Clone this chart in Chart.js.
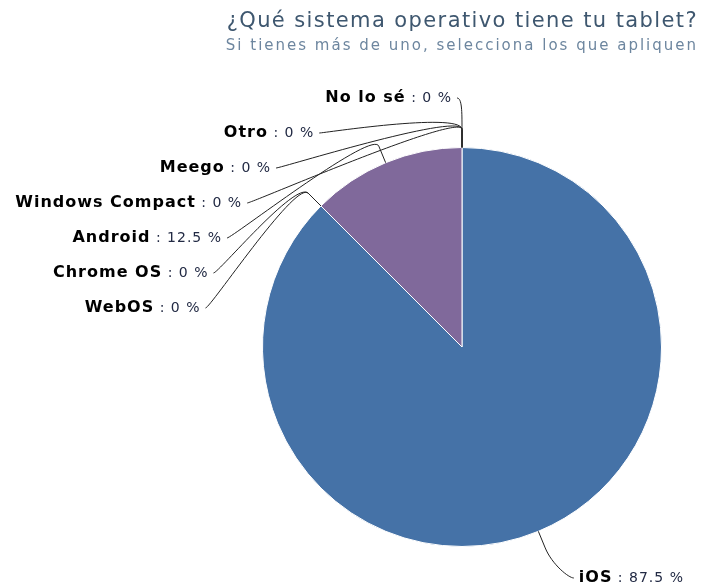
<!DOCTYPE html>
<html>
<head>
<meta charset="utf-8">
<script src="https://cdn.jsdelivr.net/npm/chart.js@4/dist/chart.umd.min.js"></script>
<style>
  html, body { margin: 0; padding: 0; background: #fff; }
  canvas { display: block; }
</style>
</head>
<body>
<canvas id="chart" width="703" height="588"></canvas>
<script>
const title = '¿Qué sistema operativo tiene tu tablet?';
const subtitle = 'Si tienes más de uno, selecciona los que apliquen';
const categories = ['iOS', 'WebOS', 'Chrome OS', 'Android', 'Windows Compact', 'Meego', 'Otro', 'No lo sé'];
const values = [87.5, 0, 0, 12.5, 0, 0, 0, 0];
const colors = ['#4572A7', '#AA4643', '#89A54E', '#80699B', '#3D96AE', '#DB843D', '#92A8CD', '#A47D7C'];

// highcharts-ish label placement
const LABEL_DIST = 55;
const BREAK_DIST = 18;
const SLOT = 35;
const LABEL_TOP = 98;
const LABEL_BOTTOM = 578;

const labelsPlugin = {
  id: 'pieLabels',
  afterDraw(chart) {
    const ctx = chart.ctx;
    const arcs = chart.getDatasetMeta(0).data;
    const cx = arcs[0].x, cy = arcs[0].y, r = arcs[0].outerRadius;
    const R = r + LABEL_DIST;

    // title + subtitle
    ctx.save();
    ctx.textAlign = 'right';
    ctx.textBaseline = 'middle';
    ctx.fillStyle = '#3E576F';
    ctx.font = '21px "DejaVu Sans"';
    ctx.letterSpacing = '1.4px';
    ctx.fillText(title, 698, 22);
    ctx.fillStyle = '#6D869F';
    ctx.font = '15px "DejaVu Sans"';
    ctx.letterSpacing = '2px';
    ctx.fillText(subtitle, 698, 46);
    ctx.restore();

    const items = arcs.map((a, i) => {
      const mid = (a.startAngle + a.endAngle) / 2;
      return { i, mid, left: Math.cos(mid) < -1e-6 || (Math.abs(Math.cos(mid)) < 1e-6 && Math.sin(mid) < 0),
               naturalY: cy + R * Math.sin(mid) };
    });

    const getX = (y, left) => {
      const dy = Math.max(-R, Math.min(R, y - cy));
      return cx + (left ? -1 : 1) * Math.sqrt(R * R - dy * dy);
    };

    [true, false].forEach(side => {
      const list = items.filter(it => it.left === side)
        .sort((a, b) => (a.naturalY - b.naturalY) || (b.i - a.i));
      let prev = -Infinity;
      list.forEach((it, k) => {
        let y = Math.max(it.naturalY, prev + SLOT, LABEL_TOP);
        y = Math.min(y, LABEL_BOTTOM);
        prev = y;
        it.y = y;
        it.x = getX(k === 0 && side ? Math.max(it.naturalY, cy - R) : y, side);
      });
    });

    ctx.save();
    ctx.strokeStyle = '#222';
    ctx.lineWidth = 1;
    items.forEach(it => {
      const bx = cx + (r + BREAK_DIST) * Math.cos(it.mid);
      const by = cy + (r + BREAK_DIST) * Math.sin(it.mid);
      const ex = cx + r * Math.cos(it.mid);
      const ey = cy + r * Math.sin(it.mid);
      const sx = it.x + (it.left ? -5 : 5);
      ctx.beginPath();
      ctx.moveTo(sx, it.y);
      ctx.bezierCurveTo(it.x, it.y, 2 * bx - ex, 2 * by - ey, bx, by);
      ctx.lineTo(ex, ey);
      ctx.stroke();
    });
    ctx.restore();

    ctx.save();
    ctx.textBaseline = 'middle';
    ctx.textAlign = 'left';
    items.forEach(it => {
      const name = categories[it.i];
      const rest = ' : ' + values[it.i] + ' %';
      const boldFont = 'bold 16px "DejaVu Sans"';
      const normFont = '14px "DejaVu Sans"';
      ctx.font = boldFont;
      ctx.letterSpacing = '1px';
      const wName = ctx.measureText(name).width;
      ctx.font = normFont;
      ctx.letterSpacing = '1px';
      const wRest = ctx.measureText(rest).width;
      let tx = it.left ? it.x - 10 - wName - wRest : it.x + 10;
      ctx.font = boldFont;
      ctx.fillStyle = '#000';
      ctx.fillText(name, tx, it.y);
      ctx.font = normFont;
      ctx.fillStyle = '#222a44';
      ctx.fillText(rest, tx + wName, it.y);
    });
    ctx.restore();
  }
};

new Chart(document.getElementById('chart'), {
  type: 'pie',
  data: {
    labels: categories,
    datasets: [{
      data: values,
      backgroundColor: colors,
      borderColor: '#ffffff',
      borderWidth: 1,
      hoverOffset: 0
    }]
  },
  options: {
    responsive: false,
    animation: false,
    layout: { padding: { left: 262, right: 41, top: 147, bottom: 41 } },
    plugins: {
      legend: { display: false },
      tooltip: { enabled: false },
      title: { display: false }
    }
  },
  plugins: [labelsPlugin]
});
</script>
</body>
</html>
